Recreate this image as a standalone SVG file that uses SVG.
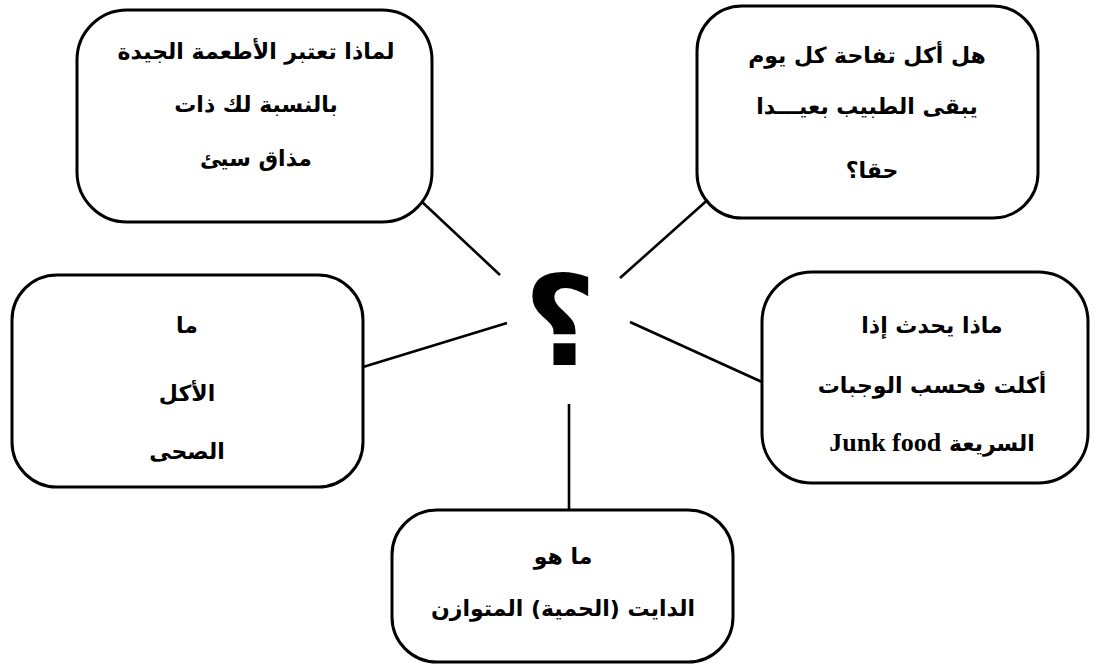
<svg xmlns="http://www.w3.org/2000/svg" width="1097" height="664" viewBox="0 0 1097 664">
<style>
.box{fill:#fff;stroke:#000;stroke-width:3}
.ln{stroke:#000;stroke-width:2.6;fill:none}
.t{font-family:"DejaVu Sans",sans-serif;font-weight:bold;font-size:22px;fill:#000;text-anchor:middle;direction:rtl}
.en{font-family:"Liberation Serif",serif;font-weight:bold;font-size:26px}
.q{font-family:"DejaVu Sans",sans-serif;font-weight:bold;font-size:125px;fill:#000;text-anchor:middle}
</style>
<rect width="1097" height="664" fill="#fff"/>
<g id="connectors">
<line class="ln" x1="420" y1="200" x2="500" y2="275"/>
<line class="ln" x1="712" y1="196" x2="620" y2="278"/>
<line class="ln" x1="363" y1="367" x2="507" y2="323"/>
<line class="ln" x1="630" y1="322" x2="762" y2="382"/>
<line class="ln" x1="569" y1="404" x2="569" y2="510"/>
</g>
<g id="center">
<text class="q" x="560" y="365">؟</text>
</g>
<g id="node-top-left">
<rect class="box" x="77" y="10" width="355" height="212" rx="50" ry="50"/>
<text class="t" x="256" y="59">لماذا تعتبر الأطعمة الجيدة</text>
<text class="t" x="256" y="112">بالنسبة لك ذات</text>
<text class="t" x="256" y="166">مذاق سيئ</text>
</g>
<g id="node-top-right">
<rect class="box" x="697" y="6" width="341" height="212" rx="45" ry="45"/>
<text class="t" x="867" y="63">هل أكل تفاحة كل يوم</text>
<text class="t" x="867" y="114">يبقى الطبيب بعيـــدا</text>
<text class="t" x="872" y="178">حقا؟</text>
</g>
<g id="node-left">
<rect class="box" x="12" y="275" width="351" height="212" rx="45" ry="45"/>
<text class="t" x="187" y="333">ما</text>
<text class="t" x="187" y="401">الأكل</text>
<text class="t" x="187" y="459">الصحى</text>
</g>
<g id="node-right">
<rect class="box" x="762" y="272" width="326" height="211" rx="50" ry="50"/>
<text class="t" x="932" y="333">ماذا يحدث إذا</text>
<text class="t" x="932" y="393">أكلت فحسب الوجبات</text>
<text class="t" x="932" y="451">السريعة <tspan class="en">Junk food</tspan></text>
</g>
<g id="node-bottom">
<rect class="box" x="392" y="510" width="341" height="152" rx="45" ry="45"/>
<text class="t" x="563" y="564">ما هو</text>
<text class="t" x="563" y="616">الدايت (الحمية) المتوازن</text>
</g>
</svg>
